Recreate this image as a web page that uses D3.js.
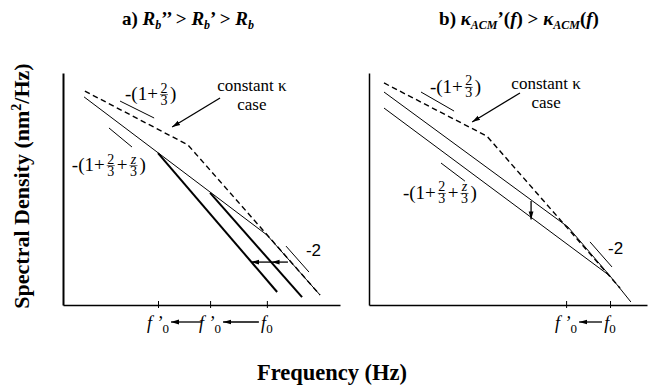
<!DOCTYPE html>
<html>
<head>
<meta charset="utf-8">
<script src="https://cdn.jsdelivr.net/npm/d3@7"></script>
<style>
  body { margin: 0; background: #fff; }
  text { font-family: 'Liberation Serif', 'Times New Roman', serif; fill: #000; }
  text.sans { font-family: 'Liberation Sans', Arial, sans-serif; }
</style>
</head>
<body>
<script>
// schematic spectra, units = % of axis length (x: log f, y: log PSD)

// panel a) Rb'' > Rb' > Rb
const aConstK = [[7.9, 92.2], [45.1, 69.0], [92.8, 4.3]]
const aRb = [[7.6, 89.7], [73.6, 30.2], [92.8, 4.3]]
const aRb1 = [[53.1, 48.3], [86.3, 3.4]]
const aRb2 = [[34.3, 65.5], [77.3, 5.6]]
const aTicks = [34.3, 53.1, 73.6]
const aTickLabels = ['f ’', 'f ’', 'f']
const aSlopeMarks = [[[20.6, 87.9], [32.9, 80.6]], [[16.6, 76.3], [24.9, 68.1]], [[80.5, 25.4], [88.8, 14.2]]]
const aShifts = [[[81.2, 18.5], [75.3, 18.5]], [[75.3, 18.5], [67.9, 18.5]]]
const aPointer = [[56.7, 89.2], [39.4, 76.7]]

// panel b) kappa_ACM'(f) > kappa_ACM(f)
const bConstK = [[5.4, 95.7], [42.4, 72.8], [90.3, 7.3]]
const bKappa = [[5.4, 84.9], [86.7, 12.5], [94.2, 1.3]]
const bKappa1 = [[5.4, 91.8], [71.6, 33.6], [86.7, 12.5]]
const bTicks = [70.9, 86.7]
const bTickLabels = ['f ’', 'f']
const bSlopeMarks = [[[18.7, 91.8], [30.6, 83.6]], [[25.9, 61.2], [34.5, 53.4]], [[79.5, 27.2], [87.4, 16.4]]]
const bShifts = [[[58.3, 44.8], [58.3, 36.9]]]
const bPointer = [[54.3, 91.4], [37.1, 78.9]]

const svg = d3.select('body').append('svg').attr('width', 654).attr('height', 388)

svg.append('defs').append('marker')
    .attr('id', 'head')
    .attr('viewBox', '0 0 10 10')
    .attr('refX', 10).attr('refY', 5)
    .attr('markerWidth', 8).attr('markerHeight', 8)
    .attr('markerUnits', 'userSpaceOnUse')
    .attr('orient', 'auto')
  .append('path')
    .attr('d', 'M0,2L10,5L0,8Z')
    .attr('fill', '#000')

function textWidth (s, size) {
  let t = svg.append('text').attr('font-size', size).text(s)
  let w = t.node().getComputedTextLength()
  t.remove()
  return w
}

// -(1+2/3...) slope label, one text element with positioned tspans
function mathLabel (g, x, cy, parts) {
  let cx = x
  let t = g.append('text').attr('font-size', 19)
  parts.forEach(function (p) {
    if (typeof p === 'string') {
      t.append('tspan').attr('x', cx).attr('y', cy + 6).text(p)
      cx += textWidth(p, 19)
    } else {
      cx += 1
      t.append('tspan').attr('x', cx + 5).attr('y', cy - 1.5).attr('font-size', 14)
          .attr('text-anchor', 'middle').attr('font-style', p.it ? 'italic' : null).text(p.n)
      t.append('tspan').attr('x', cx + 5).attr('y', cy + 10.5).attr('font-size', 14)
          .attr('text-anchor', 'middle').text(p.d)
      g.append('line').attr('x1', cx + 1).attr('x2', cx + 9).attr('y1', cy + 0.5).attr('y2', cy + 0.5)
          .attr('stroke', '#000').attr('stroke-width', 0.6)
      cx += 11
    }
  })
}

function drawPanel (cfg) {
  let x = d3.scaleLinear().domain([0, 100]).range([cfg.left, cfg.right])
  let y = d3.scaleLinear().domain([0, 100]).range([305, 73])
  let line = d3.line().x((d) => x(d[0])).y((d) => y(d[1]))
  let g = svg.append('g')

  // axes
  let xAxis = g.append('g').attr('transform', 'translate(0,305)')
      .call(d3.axisBottom(x).tickValues(cfg.ticks).tickSize(3).tickSizeOuter(0).tickFormat(''))
  xAxis.select('.domain').attr('stroke-width', 1.6)
  xAxis.selectAll('.tick line').attr('y1', -4).attr('stroke-width', 1)
  let yAxis = g.append('g').attr('transform', 'translate(' + cfg.left + ',0)')
      .call(d3.axisLeft(y).tickValues([]).tickSizeOuter(0))
  yAxis.select('.domain').attr('stroke-width', cfg.yw)

  // spectra
  g.append('path').attr('d', line(cfg.constK)).attr('fill', 'none')
      .attr('stroke', '#000').attr('stroke-width', 1.4).attr('stroke-dasharray', '5.5,3.5')
  cfg.thin.forEach(function (s) {
    g.append('path').attr('d', line(s)).attr('fill', 'none').attr('stroke', '#000').attr('stroke-width', 1)
  })
  cfg.thick.forEach(function (s) {
    g.append('path').attr('d', line(s)).attr('fill', 'none').attr('stroke', '#000').attr('stroke-width', 2)
  })

  // slope guides
  g.selectAll('.slope').data(cfg.slopes).enter().append('path')
      .attr('d', line).attr('stroke', '#000').attr('stroke-width', 1).attr('fill', 'none')

  // shift arrows + pointer
  g.selectAll('.shift').data(cfg.shifts.concat([cfg.pointer])).enter().append('path')
      .attr('d', line).attr('stroke', '#000').attr('stroke-width', 1.3).attr('fill', 'none')
      .attr('marker-end', 'url(#head)')

  // tick labels f0
  cfg.ticks.forEach(function (t, i) {
    let lab = g.append('text').attr('x', x(t)).attr('y', 329).attr('text-anchor', 'middle').attr('font-size', 18)
    lab.append('tspan').attr('font-style', 'italic').text(cfg.tickLabels[i])
    lab.append('tspan').attr('font-size', 13).attr('dy', 4).text('0')
    if (i > 0) {
      g.append('line').attr('x1', x(t) - 8).attr('x2', x(cfg.ticks[i - 1]) + 13)
          .attr('y1', 322).attr('y2', 322).attr('stroke', '#000').attr('stroke-width', 1.3)
          .attr('marker-end', 'url(#head)')
    }
  })

  // annotations
  mathLabel(g, x(cfg.lab1[0]), y(cfg.lab1[1]), ['-(1+', {n: '2', d: '3'}, ')'])
  mathLabel(g, x(cfg.lab2[0]), y(cfg.lab2[1]), ['-(1+', {n: '2', d: '3'}, '+', {n: 'z', d: '3', it: true}, ')'])
  let ck = g.append('text').attr('font-size', 17)
  ck.append('tspan').attr('x', x(cfg.labK[0])).attr('y', y(cfg.labK[1])).attr('text-anchor', 'middle')
      .text('constant κ')
  ck.append('tspan').attr('x', x(cfg.labK[0])).attr('y', y(cfg.labK[1]) + 19).attr('text-anchor', 'middle')
      .text('case')
  g.append('text').attr('class', 'sans').attr('x', x(cfg.lab3[0])).attr('y', y(cfg.lab3[1]))
      .attr('font-size', 17).text('-2')
}

drawPanel({
  left: 63, right: 340, yw: 2, ticks: aTicks, tickLabels: aTickLabels,
  constK: aConstK, thin: [aRb], thick: [aRb1, aRb2], slopes: aSlopeMarks,
  shifts: aShifts, pointer: aPointer,
  lab1: [22.4, 90.9], lab2: [3.2, 60.3], labK: [68.2, 92.2], lab3: [87.7, 21.1]
})

drawPanel({
  left: 369, right: 647, yw: 1.5, ticks: bTicks, tickLabels: bTickLabels,
  constK: bConstK, thin: [bKappa, bKappa1], thick: [], slopes: bSlopeMarks,
  shifts: bShifts, pointer: bPointer,
  lab1: [21.9, 94.0], lab2: [12.2, 48.3], labK: [63.7, 93.1], lab3: [86.0, 22.0]
})

// titles
let ta = svg.append('text').attr('x', 188).attr('y', 25).attr('text-anchor', 'middle')
    .attr('font-size', 19).attr('font-weight', 'bold')
ta.append('tspan').text('a) ')
ta.append('tspan').attr('font-style', 'italic').text('R')
ta.append('tspan').attr('font-style', 'italic').attr('font-size', 12).attr('dy', 4).text('b')
ta.append('tspan').attr('dy', -4).text('’’ > ')
ta.append('tspan').attr('font-style', 'italic').text('R')
ta.append('tspan').attr('font-style', 'italic').attr('font-size', 12).attr('dy', 4).text('b')
ta.append('tspan').attr('dy', -4).text('’ > ')
ta.append('tspan').attr('font-style', 'italic').text('R')
ta.append('tspan').attr('font-style', 'italic').attr('font-size', 12).attr('dy', 4).text('b')

let tb = svg.append('text').attr('x', 519).attr('y', 25).attr('text-anchor', 'middle')
    .attr('font-size', 19).attr('font-weight', 'bold')
tb.append('tspan').text('b) ')
tb.append('tspan').attr('font-style', 'italic').text('κ')
tb.append('tspan').attr('font-style', 'italic').attr('font-size', 12).attr('dy', 4).text('ACM')
tb.append('tspan').attr('dy', -4).text('’(')
tb.append('tspan').attr('font-style', 'italic').text('f')
tb.append('tspan').text(') > ')
tb.append('tspan').attr('font-style', 'italic').text('κ')
tb.append('tspan').attr('font-style', 'italic').attr('font-size', 12).attr('dy', 4).text('ACM')
tb.append('tspan').attr('dy', -4).text('(')
tb.append('tspan').attr('font-style', 'italic').text('f')
tb.append('tspan').text(')')

// axis titles
let yl = svg.append('text').attr('transform', 'translate(29,186) rotate(-90)').attr('text-anchor', 'middle')
    .attr('font-size', 22).attr('font-weight', 'bold')
yl.append('tspan').text('Spectral Density (nm')
yl.append('tspan').attr('font-size', 14).attr('dy', -8).text('2')
yl.append('tspan').attr('dy', 8).text('/Hz)')

svg.append('text').attr('x', 332).attr('y', 380).attr('text-anchor', 'middle')
    .attr('font-size', 22.5).attr('font-weight', 'bold').text('Frequency (Hz)')
</script>
</body>
</html>
